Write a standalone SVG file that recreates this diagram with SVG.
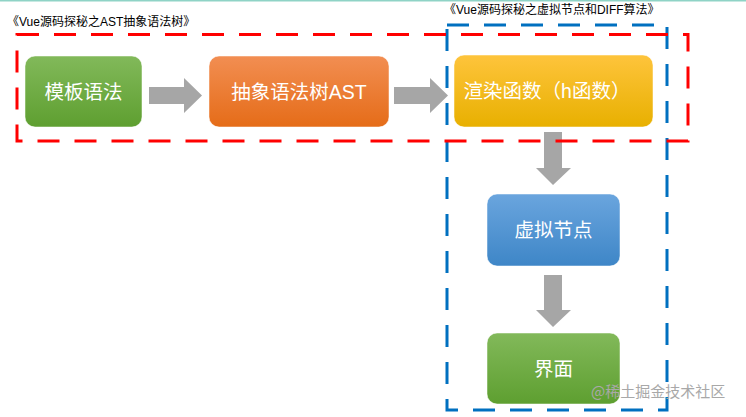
<svg xmlns="http://www.w3.org/2000/svg" width="746" height="417" viewBox="0 0 746 417">
<defs>
<linearGradient id="gGreen" x1="0" y1="0" x2="0" y2="1"><stop offset="0" stop-color="#82b95a"/><stop offset="1" stop-color="#5e9f30"/></linearGradient>
<linearGradient id="gOrange" x1="0" y1="0" x2="0" y2="1"><stop offset="0" stop-color="#f28e52"/><stop offset="1" stop-color="#e56c18"/></linearGradient>
<linearGradient id="gYellow" x1="0" y1="0" x2="0" y2="1"><stop offset="0" stop-color="#fec43c"/><stop offset="1" stop-color="#e8b000"/></linearGradient>
<linearGradient id="gBlue" x1="0" y1="0" x2="0" y2="1"><stop offset="0" stop-color="#6aa5de"/><stop offset="1" stop-color="#3e86c7"/></linearGradient>
<style>
.node rect{stroke:#ffffff;stroke-opacity:0.5;stroke-width:1}
.lbl{fill:#ffffff;font-family:"Liberation Sans","Noto Sans CJK SC",sans-serif;font-size:19.5px;text-anchor:middle}
.title{fill:#000000;font-family:"Liberation Sans","Noto Sans CJK SC",sans-serif;font-size:12px}
.arr{fill:#a6a6a6}
.wm{fill:#a8a8a8;font-family:"Noto Sans CJK SC",sans-serif;font-size:15px}
</style>
</defs>
<rect width="746" height="417" fill="#ffffff"/>
<line x1="0" y1="0.5" x2="746" y2="0.5" stroke="#8fd3c6" stroke-width="2"/>
<text class="title" x="7" y="26">《Vue源码探秘之AST抽象语法树》</text>
<text class="title" x="444" y="14">《Vue源码探秘之虚拟节点和DIFF算法》</text>

<g id="n1" class="node"><rect x="25" y="56" width="117" height="71" rx="10" fill="url(#gGreen)"/><text class="lbl" x="83.5" y="98.5">模板语法</text></g>
<g id="n2" class="node"><rect x="209" y="56" width="180" height="71" rx="10" fill="url(#gOrange)"/><text class="lbl" x="299" y="98.5">抽象语法树AST</text></g>
<g id="n3" class="node"><rect x="454" y="55" width="199" height="72" rx="10" fill="url(#gYellow)"/><text class="lbl" x="547" y="98">渲染函数（h函数）</text></g>
<g id="n4" class="node"><rect x="487" y="194" width="133" height="72" rx="10" fill="url(#gBlue)"/><text class="lbl" x="553.5" y="237">虚拟节点</text></g>
<g id="n5" class="node"><rect x="487" y="333" width="133" height="71" rx="10" fill="url(#gGreen)"/><text class="lbl" x="553.5" y="375.5">界面</text></g>

<g id="connectors">
<polygon class="arr" points="149,87 184,87 184,78 202,95.5 184,113 184,104 149,104"/>
<polygon class="arr" points="394,87 430,87 430,78 448,95.5 430,113 430,104 394,104"/>
<polygon class="arr" points="544,132 562,132 562,168 571,168 553,185 536,168 544,168"/>
<polygon class="arr" points="544,275 562,275 562,310 571,310 553,327 536,310 544,310"/>
</g>

<g id="groups" fill="none" stroke-width="3">
<rect id="blueBox" x="447" y="25" width="220" height="385" stroke="#0070c0" stroke-dasharray="22 15"/>
<rect id="redBox" x="17" y="34.5" width="671" height="106.5" stroke="#ff0000" stroke-dasharray="22 15"/>
</g>

<text class="wm" x="591" y="397">@稀土掘金技术社区</text>
</svg>
